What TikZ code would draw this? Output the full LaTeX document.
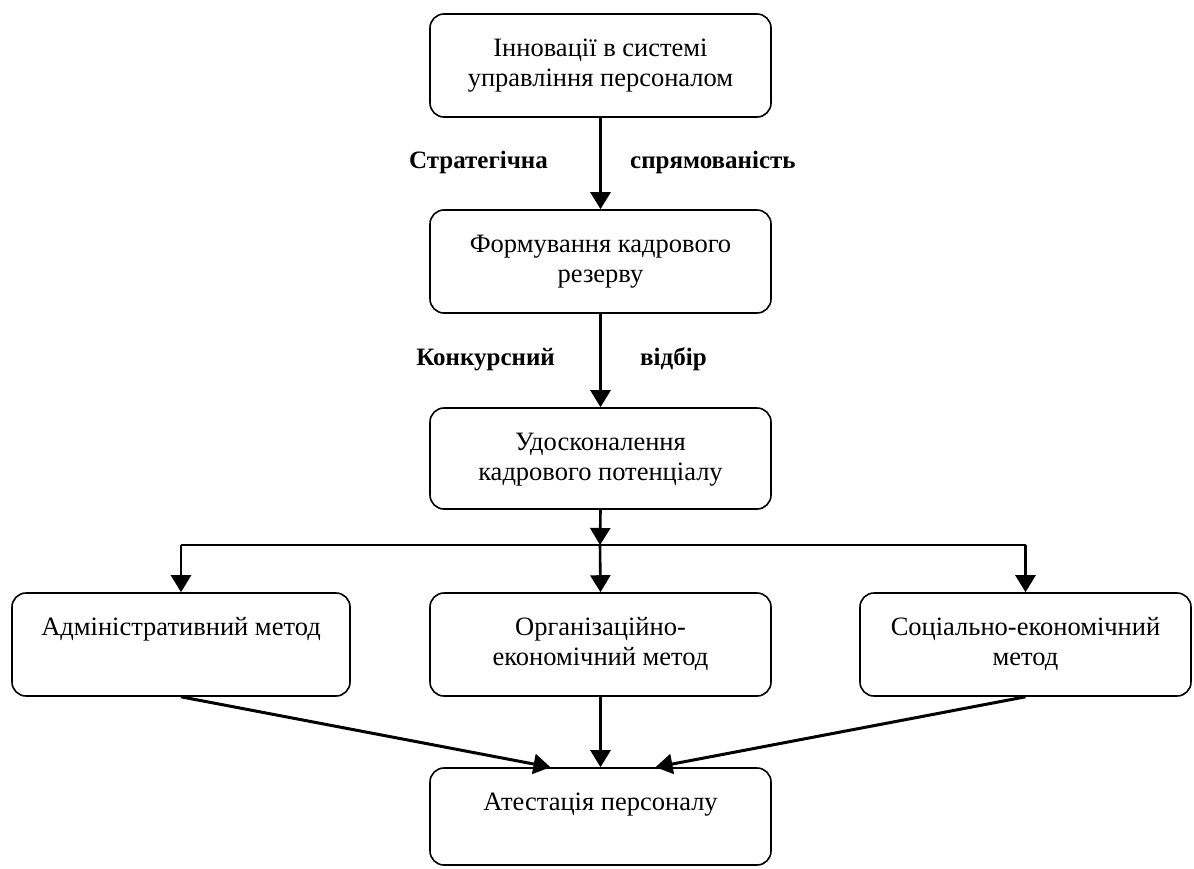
\documentclass[tikz,border=0pt]{standalone}
\usepackage{fontspec}
\setmainfont{Liberation Serif}
\usetikzlibrary{arrows.meta}

% box text: width, height, lines; first baseline sits a fixed distance below the top edge
\newcommand\boxtext[3]{%
  \begin{minipage}[t][#2][t]{#1}\centering
    \fontsize{26.5pt}{30pt}\selectfont\rule{0pt}{42pt}#3%
  \end{minipage}}

\begin{document}
\begin{tikzpicture}[
  x=1pt, y=-1pt,
  box/.style={draw, line width=1.6pt, rounded corners=14pt, inner sep=0pt},
  arr/.style={line width=2.6pt, -{Triangle[length=17pt, width=20pt]}},
  slant/.style={arr, line width=3pt},
  bar/.style={line width=2pt},
  lbl/.style={inner sep=0pt, font=\fontsize{25pt}{30pt}\selectfont\bfseries},
]
\useasboundingbox[fill=white] (0,0) rectangle (1194,868);

% main chain
\node[box] (b1) at (600.5,65.5)  {\boxtext{341pt}{103pt}{Інновації в системі\\управління персоналом}};
\node[box] (b2) at (600.5,261.5) {\boxtext{341pt}{103pt}{Формування кадрового\\резерву}};
\node[box] (b3) at (600.5,458.5) {\boxtext{341pt}{101pt}{Удосконалення\\кадрового потенціалу}};

% methods
\node[box] (m1) at (181,644.5)    {\boxtext{338pt}{103pt}{Адміністративний метод}};
\node[box] (m2) at (600.5,644.5)  {\boxtext{341pt}{103pt}{Організаційно-\\економічний метод}};
\node[box] (m3) at (1025.5,644.5) {\boxtext{331pt}{103pt}{Соціально-економічний\\метод}};

% result
\node[box] (b4) at (600.5,816.5) {\boxtext{341pt}{97pt}{Атестація персоналу}};

% connector labels
\node[lbl, anchor=base east] (l1) at (548,168) {Стратегічна};
\node[lbl, anchor=base west] (l2) at (630,168) {спрямованість};
\node[lbl, anchor=base east] (l3) at (555,365) {Конкурсний};
\node[lbl, anchor=base west] (l4) at (640,365) {відбір};

% connectors
\coordinate (j) at (600,545);
\draw[arr] (b1.south) -- (b2.north);
\draw[arr] (b2.south) -- (b3.north);
\draw[arr] (b3.south) -- (j);
\draw[bar] (m1.north |- j) -- (m3.north |- j);
\draw[arr] (j) -- (m2.north);
\draw[arr] (m1.north |- j) -- (m1.north);
\draw[arr] (m3.north |- j) -- (m3.north);

\draw[slant] (m1.south) -- ([xshift=-50pt]b4.north);
\draw[arr]   (m2.south) -- (b4.north);
\draw[slant] (m3.south) -- ([xshift=55pt]b4.north);
\end{tikzpicture}
\end{document}
